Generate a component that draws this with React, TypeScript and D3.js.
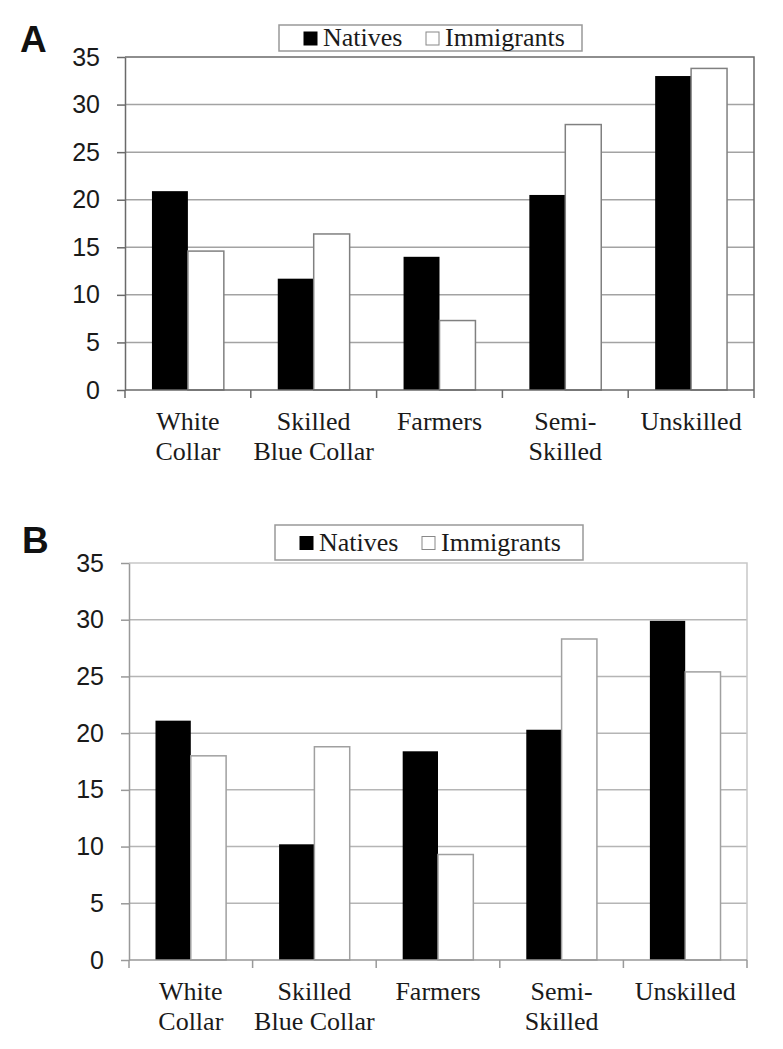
import React, { useEffect, useRef } from "react";
import * as d3 from "d3";

// occupational categories (x axis)
const categories = ["White Collar", "Skilled Blue Collar", "Farmers", "Semi-Skilled", "Unskilled"];
const categoryLines = [["White", "Collar"], ["Skilled", "Blue Collar"], ["Farmers"], ["Semi-", "Skilled"], ["Unskilled"]];
const seriesNames = ["Natives", "Immigrants"];

// panel A
const nativesA = [20.9, 11.7, 14.0, 20.5, 33.0];
const immigrantsA = [14.6, 16.4, 7.3, 27.9, 33.8];

// panel B
const nativesB = [21.1, 10.2, 18.4, 20.3, 29.9];
const immigrantsB = [18.0, 18.8, 9.3, 28.3, 25.4];

const yTicks = [0, 5, 10, 15, 20, 25, 30, 35];

const SANS = "'Liberation Sans', Arial, sans-serif";
const SERIF = "'Liberation Serif', 'Times New Roman', serif";

function drawPanel(g, opts) {
  var { letter, natives, immigrants, left, top, right, bottom, legend, gridColor, axisColor, frameColor, barStroke } = opts;

  var x = d3.scaleBand().domain(categories).range([left, right]).paddingInner(0).paddingOuter(0);
  var xs = d3.scaleBand().domain(seriesNames).range([0, x.bandwidth()]).paddingInner(0).paddingOuter(0.75);
  var y = d3.scaleLinear().domain([0, 35]).range([bottom, top]);

  // gridlines
  g.selectAll(".grid")
    .data(yTicks.filter(t => t > 0 && t < 35))
    .join("line")
    .attr("class", "grid")
    .attr("x1", left).attr("x2", right)
    .attr("y1", d => y(d)).attr("y2", d => y(d))
    .attr("stroke", gridColor).attr("stroke-width", 1.5);

  // top & right frame
  g.append("path")
    .attr("d", `M${left},${y(35)}H${right}V${y(0)}`)
    .attr("fill", "none").attr("stroke", frameColor).attr("stroke-width", 1.5);

  // bars
  var rows = categories.map((c, i) => [
    { c, s: "Natives", v: natives[i] },
    { c, s: "Immigrants", v: immigrants[i] },
  ]).flat();

  g.selectAll(".bar")
    .data(rows)
    .join("rect")
    .attr("class", "bar")
    .attr("x", d => x(d.c) + xs(d.s))
    .attr("y", d => y(d.v))
    .attr("width", xs.bandwidth())
    .attr("height", d => y(0) - y(d.v))
    .attr("fill", d => (d.s === "Natives" ? "#000" : "#fff"))
    .attr("stroke", d => (d.s === "Natives" ? "#000" : barStroke))
    .attr("stroke-width", d => (d.s === "Natives" ? 0 : 1.5));

  // y axis
  var yAxis = d3.axisLeft(y).tickValues(yTicks).tickSize(8).tickSizeOuter(0).tickPadding(17);
  var ya = g.append("g").attr("transform", `translate(${left},0)`).call(yAxis);
  ya.select(".domain").attr("stroke", axisColor).attr("stroke-width", 1.5);
  ya.selectAll(".tick line").attr("stroke", axisColor).attr("stroke-width", 1.5);
  ya.selectAll(".tick text")
    .attr("font-family", SANS).attr("font-size", 25).attr("fill", "#1a1a1a");

  // x axis line and boundary ticks
  g.append("line")
    .attr("x1", left).attr("x2", right)
    .attr("y1", y(0)).attr("y2", y(0))
    .attr("stroke", axisColor).attr("stroke-width", 1.5);
  var bounds = categories.map(c => x(c)).concat([right]);
  g.selectAll(".xtick")
    .data(bounds)
    .join("line")
    .attr("class", "xtick")
    .attr("x1", d => d).attr("x2", d => d)
    .attr("y1", y(0)).attr("y2", y(0) + 8)
    .attr("stroke", axisColor).attr("stroke-width", 1.5);

  // category labels
  var lab = g.selectAll(".xlab")
    .data(categories)
    .join("text")
    .attr("class", "xlab")
    .attr("text-anchor", "middle")
    .attr("font-family", SERIF).attr("font-size", 26).attr("fill", "#1a1a1a");
  lab.selectAll("tspan")
    .data((d, i) => categoryLines[i].map(t => ({ t, cx: x(d) + x.bandwidth() / 2 })))
    .join("tspan")
    .attr("x", d => d.cx)
    .attr("y", (d, j) => y(0) + 40 + j * 30)
    .text(d => d.t);

  // legend
  g.append("rect")
    .attr("x", legend.x).attr("y", legend.y)
    .attr("width", legend.w).attr("height", legend.h)
    .attr("fill", "#fff").attr("stroke", "#999").attr("stroke-width", 1.5);
  var items = [
    { s: "Natives", mx: legend.x + 25, fill: "#000", stroke: "#000" },
    { s: "Immigrants", mx: legend.x + 147, fill: "#fff", stroke: "#888" },
  ];
  var cy = legend.y + legend.h / 2;
  g.selectAll(".lm")
    .data(items)
    .join("rect")
    .attr("class", "lm")
    .attr("x", d => d.mx).attr("y", cy - 6)
    .attr("width", 13).attr("height", 13)
    .attr("fill", d => d.fill).attr("stroke", d => d.stroke).attr("stroke-width", 1);
  g.selectAll(".lt")
    .data(items)
    .join("text")
    .attr("class", "lt")
    .attr("x", d => d.mx + 19).attr("y", cy + 8)
    .attr("font-family", SERIF).attr("font-size", 26).attr("fill", "#1a1a1a")
    .text(d => d.s);

  // panel letter
  g.append("text")
    .attr("x", letter.x).attr("y", letter.y)
    .attr("font-family", SANS).attr("font-weight", "bold").attr("font-size", 37)
    .attr("fill", "#111")
    .text(letter.t);
}

export default function App() {
  const ref = useRef(null);

  useEffect(() => {
    var svg = d3.select(ref.current);
    svg.selectAll("*").remove();

    drawPanel(svg.append("g"), {
      letter: { t: "A", x: 20, y: 52 },
      natives: nativesA, immigrants: immigrantsA,
      left: 125, top: 57, right: 754, bottom: 390,
      legend: { x: 279, y: 25, w: 303, h: 26 },
      gridColor: "#a3a3a3", axisColor: "#6a6a6a", frameColor: "#6a6a6a", barStroke: "#808080",
    });

    drawPanel(svg.append("g"), {
      letter: { t: "B", x: 22, y: 553 },
      natives: nativesB, immigrants: immigrantsB,
      left: 129, top: 563, right: 747, bottom: 960,
      legend: { x: 275, y: 525, w: 308, h: 35 },
      gridColor: "#b5b5b5", axisColor: "#999", frameColor: "#c8c8c8", barStroke: "#a0a0a0",
    });
  }, []);

  return (
    <svg ref={ref} width={783} height={1049}
      style={{ position: "absolute", left: 0, top: 0, background: "#fff" }} />
  );
}
